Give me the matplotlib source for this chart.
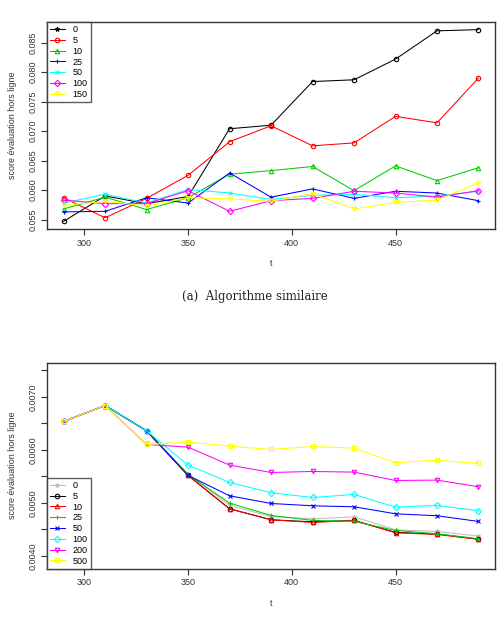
import matplotlib
matplotlib.use("Agg")
import matplotlib.pyplot as plt
from matplotlib.lines import Line2D
from matplotlib.ticker import FixedLocator, FuncFormatter

plt.rcParams["font.family"] = ["Liberation Sans", "DejaVu Sans"]

t = [290, 310, 330, 350, 370, 390, 410, 430, 450, 470, 490]

# (a) algorithme similaire
sim_labels = ["0", "5", "10", "25", "50", "100", "150"]
sim_0 = [0.0547, 0.0590, 0.0577, 0.0589, 0.0704, 0.0710, 0.0784, 0.0787, 0.0822, 0.0870, 0.0872]
sim_5 = [0.0587, 0.0553, 0.0586, 0.0625, 0.0682, 0.0709, 0.0675, 0.0680, 0.0725, 0.0714, 0.0790]
sim_10 = [0.0568, 0.0588, 0.0567, 0.0587, 0.0627, 0.0633, 0.0640, 0.0599, 0.0641, 0.0616, 0.0638]
sim_25 = [0.0563, 0.0564, 0.0587, 0.0578, 0.0629, 0.0588, 0.0602, 0.0586, 0.0598, 0.0595, 0.0582]
sim_50 = [0.0578, 0.0593, 0.0578, 0.0601, 0.0595, 0.0584, 0.0591, 0.0593, 0.0587, 0.0590, 0.0598]
sim_100 = [0.0583, 0.0577, 0.0577, 0.0599, 0.0564, 0.0582, 0.0586, 0.0598, 0.0595, 0.0588, 0.0599]
sim_150 = [0.0574, 0.0581, 0.0573, 0.0587, 0.0585, 0.0581, 0.0594, 0.0568, 0.0579, 0.0583, 0.0612]

# second panel
alt_labels = ["0", "5", "10", "25", "50", "100", "200", "500"]
alt_0 = [0.006535, 0.006836, 0.006358, 0.005550, 0.004950, 0.004740, 0.004698, 0.004736, 0.004490, 0.004459, 0.004371]
alt_5 = [0.006535, 0.006836, 0.006358, 0.005516, 0.004887, 0.004679, 0.004640, 0.004667, 0.004440, 0.004410, 0.004315]
alt_10 = [0.006535, 0.006836, 0.006358, 0.005516, 0.004887, 0.004679, 0.004629, 0.004667, 0.004434, 0.004403, 0.004308]
alt_25 = [0.006535, 0.006836, 0.006358, 0.005530, 0.004994, 0.004761, 0.004667, 0.004648, 0.004478, 0.004415, 0.004321]
alt_50 = [0.006535, 0.006836, 0.006358, 0.005516, 0.005132, 0.004987, 0.004943, 0.004925, 0.004792, 0.004755, 0.004648]
alt_100 = [0.006535, 0.006836, 0.006358, 0.005711, 0.005384, 0.005189, 0.005100, 0.005157, 0.004918, 0.004950, 0.004849]
alt_200 = [0.006535, 0.006836, 0.006101, 0.006050, 0.005711, 0.005572, 0.005591, 0.005579, 0.005421, 0.005428, 0.005302]
alt_500 = [0.006535, 0.006836, 0.006101, 0.006145, 0.006069, 0.006006, 0.006063, 0.006031, 0.005755, 0.005805, 0.005742]

sim_series = [sim_0, sim_5, sim_10, sim_25, sim_50, sim_100, sim_150]
sim_colors = ["black", "#FF0000", "#00CD00", "#0000FF", "#00FFFF", "#FF00FF", "#FFFF00"]
sim_markers = ["o", "o", "^", "+", "x", "D", "v"]
sim_leg_markers = ["*", "o", "^", "+", "x", "D", "v"]

alt_series = [alt_0, alt_5, alt_10, alt_25, alt_50, alt_100, alt_200, alt_500]
alt_colors = ["#BEBEBE", "black", "#FF0000", "#00CD00", "#0000FF", "#00FFFF", "#FF00FF", "#FFFF00"]
alt_markers = ["*", "o", "^", "+", "x", "D", "v", "s"]

FS = 6.5
LW = 0.75
MS = 3.2


def style_axes(ax, yticks, ylabels):
    for s in ax.spines.values():
        s.set_linewidth(1.0)
        s.set_color("#333333")
    ax.set_xticks([300, 350, 400, 450])
    ax.yaxis.set_major_locator(FixedLocator(yticks))
    ax.yaxis.set_major_formatter(FuncFormatter(lambda v, p: ylabels.get(round(v, 5), "")))
    ax.tick_params(direction="out", length=4, width=0.8, labelsize=FS, colors="#333333", pad=3)
    ax.tick_params(axis="y", labelrotation=90)
    for lab in ax.get_yticklabels():
        lab.set_va("center")
    ax.set_xlabel("t", fontsize=FS, color="#333333", labelpad=8)
    ax.set_ylabel("score \u00e9valuation hors ligne", fontsize=FS, color="#333333", labelpad=8)


def draw_legend(ax, labels, colors, markers, loc):
    handles = [Line2D([0], [0], color=c, marker=m, markersize=MS, lw=LW,
                      markerfacecolor="none", markeredgewidth=0.8)
               for c, m in zip(colors, markers)]
    leg = ax.legend(handles, labels, loc=loc, fontsize=FS, frameon=True, fancybox=False,
                    borderaxespad=0, handlelength=1.6, handletextpad=0.9,
                    labelspacing=0.2, borderpad=0.35)
    leg.get_frame().set_edgecolor("#333333")
    leg.get_frame().set_linewidth(1.0)


fig = plt.figure(figsize=(5.04, 6.3), dpi=100)

ax1 = fig.add_axes([0.0933, 0.6365, 0.889, 0.3286])
for vals, c, m in zip(sim_series, sim_colors, sim_markers):
    ax1.plot(t, vals, color=c, marker=m, markersize=MS, lw=LW,
             markerfacecolor="none", markeredgewidth=0.8)
ax1.margins(x=0.04, y=0.04)
top_ticks = [0.055, 0.060, 0.065, 0.070, 0.075, 0.080, 0.085]
style_axes(ax1, top_ticks, {round(v, 5): f"{v:.3f}" for v in top_ticks})
draw_legend(ax1, sim_labels, sim_colors, sim_leg_markers, "upper left")

fig.text(0.506, 0.530, "(a)  Algorithme similaire", ha="center", va="center",
         fontsize=8.5, family=["DejaVu Serif"], color="#222222")

ax2 = fig.add_axes([0.0933, 0.0973, 0.889, 0.327])
for vals, c, m in zip(alt_series, alt_colors, alt_markers):
    ax2.plot(t, vals, color=c, marker=m, markersize=MS, lw=LW,
             markerfacecolor="none", markeredgewidth=0.8)
ax2.margins(x=0.04)
ylo, yhi = 0.0039, 0.0075
pad = (yhi - ylo) * 0.04
ax2.set_ylim(ylo - pad, yhi + pad)
bot_ticks = [0.0040, 0.0045, 0.0050, 0.0055, 0.0060, 0.0065, 0.0070, 0.0075]
style_axes(ax2, bot_ticks, {round(v, 5): f"{v:.4f}" for v in [0.0040, 0.0050, 0.0060, 0.0070]})
draw_legend(ax2, alt_labels, alt_colors, alt_markers, "lower left")

fig.savefig("out.png", dpi=100)
